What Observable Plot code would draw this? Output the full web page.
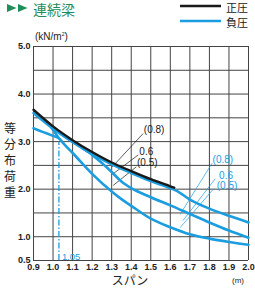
<!DOCTYPE html>
<html><head><meta charset="utf-8">
<script src="https://cdn.jsdelivr.net/npm/d3@7"></script>
<script src="https://cdn.jsdelivr.net/npm/@observablehq/plot@0.6"></script>
<style>body{margin:0;background:#fff}svg{display:block}</style>
</head><body><div id="chart"></div>
<script>
// ---- data ----
const xTicks = [0.9,1.0,1.1,1.2,1.3,1.4,1.5,1.6,1.7,1.8,1.9,2.0];
const yLabels = [0.5,1.0,2.0,3.0,4.0,5.0];
const yGrid = [0.5,1.0,1.5,2.0,2.5,3.0,3.5,4.0,4.5,5.0];

// 正圧 (black)
const posX = [0.9,1.0,1.1,1.2,1.3,1.4,1.5,1.6,1.62];
const posY = [3.67,3.32,3.03,2.78,2.56,2.38,2.21,2.06,2.03];
// 負圧 (0.8)
const neg08X = [0.9,1.0,1.1,1.2,1.3,1.4,1.5,1.6,1.63,1.7,1.8,1.9,2.0];
const neg08Y = [3.6,3.27,2.99,2.74,2.52,2.34,2.17,2.02,1.97,1.78,1.59,1.44,1.3];
// 負圧 0.6
const neg06X = [1.15,1.2,1.25,1.3,1.35,1.4,1.5,1.6,1.7,1.8,1.9,2.0];
const neg06Y = [2.86,2.72,2.55,2.36,2.16,2.02,1.83,1.66,1.48,1.3,1.13,0.98];
// 負圧 (0.5)
const neg05X = [0.9,0.95,1.0,1.03,1.06,1.1,1.2,1.3,1.35,1.4,1.5,1.6,1.7,1.8,1.9,2.0];
const neg05Y = [3.28,3.2,3.12,3.07,2.93,2.76,2.32,1.95,1.79,1.65,1.38,1.2,1.05,0.96,0.89,0.83];
const negBranchX = [0.99,1.03];
const negBranchY = [3.3,3.07];

const spanMark = 1.03, spanMarkTop = 2.98, spanMarkLabel = "1.05";

const curveLabels = ["(0.8)","0.6","(0.5)"];
const blackLabelX = [1.517,1.477,1.482];
const blackLabelY = [3.25,2.79,2.56];
const blackLeadX1 = [1.461,1.436,1.426], blackLeadY1 = [3.17,2.72,2.47];
const blackLeadX2 = [1.303,1.303,1.308], blackLeadY2 = [2.47,2.31,2.08];
const blueLabelX = [1.869,1.885,1.89];
const blueLabelY = [2.62,2.29,2.08];
const blueLeadX1 = [1.813,1.83,1.822], blueLeadY1 = [2.54,2.22,2.01];
const blueLeadX2 = [1.65,1.665,1.65], blueLeadY2 = [1.47,1.34,1.19];

const BLUE = "#1b9ddf", BLACK = "#1a1a1a", GREEN = "#1f8c5c", GRID = "#444";
const toRows = (xs, ys) => xs.map((x, i) => ({x, y: ys[i]}));
const lead = (x1,y1,x2,y2) => x1.map((v,i)=>({x1:v,y1:y1[i],x2:x2[i],y2:y2[i]}));
const lab = (xs,ys) => xs.map((x,i)=>({x,y:ys[i],t:curveLabels[i]}));

const font = "'Liberation Sans', Arial, sans-serif";
const chart = Plot.plot({
  width: 255, height: 288,
  marginLeft: 33, marginRight: 7, marginTop: 46, marginBottom: 28,
  style: {fontFamily: font, fontSize: "9px", color: "#222", background: "#fff"},
  x: {domain: [0.9, 2.0], label: null},
  y: {domain: [0.5, 5.0], label: null},
  marks: [
    Plot.ruleX(xTicks, {stroke: GRID, strokeWidth: 1}),
    Plot.ruleY(yGrid, {stroke: GRID, strokeWidth: 1}),
    Plot.axisX({ticks: xTicks, tickFormat: ".1f", tickSize: 0, tickPadding: 3, label: null, fontWeight: "bold", fill: "#222"}),
    Plot.axisY({ticks: yLabels, tickFormat: ".1f", tickSize: 0, tickPadding: 3, label: null, fontWeight: "bold", fill: "#222"}),
    Plot.ruleX([spanMark], {y1: 0.5, y2: spanMarkTop, stroke: BLUE, strokeWidth: 1.3, strokeDasharray: "6,2,1.5,2"}),
    Plot.text([spanMarkLabel], {x: spanMark, y: 0.5, text: d => d, dx: 3, dy: -1, lineAnchor: "bottom", textAnchor: "start", fill: BLUE, fontSize: 9.5}),
    Plot.link(lead(blackLeadX1,blackLeadY1,blackLeadX2,blackLeadY2), {x1:"x1",y1:"y1",x2:"x2",y2:"y2", stroke: BLACK, strokeWidth: 0.7}),
    Plot.link(lead(blueLeadX1,blueLeadY1,blueLeadX2,blueLeadY2), {x1:"x1",y1:"y1",x2:"x2",y2:"y2", stroke: BLUE, strokeWidth: 0.7}),
    Plot.line(toRows(neg05X, neg05Y), {x:"x", y:"y", stroke: BLUE, strokeWidth: 2.6, curve: "monotone-x"}),
    Plot.line(toRows(negBranchX, negBranchY), {x:"x", y:"y", stroke: BLUE, strokeWidth: 2.6}),
    Plot.line(toRows(neg06X, neg06Y), {x:"x", y:"y", stroke: BLUE, strokeWidth: 2.6, curve: "monotone-x"}),
    Plot.line(toRows(neg08X, neg08Y), {x:"x", y:"y", stroke: BLUE, strokeWidth: 2.6, curve: "monotone-x"}),
    Plot.line(toRows(posX, posY), {x:"x", y:"y", stroke: BLACK, strokeWidth: 2.4, curve: "monotone-x"}),
    Plot.text(lab(blackLabelX, blackLabelY), {x:"x", y:"y", text:"t", fill: BLACK, fontSize: 10}),
    Plot.text(lab(blueLabelX, blueLabelY), {x:"x", y:"y", text:"t", fill: BLUE, fontSize: 10})
  ]
});
document.getElementById("chart").appendChild(chart);

// titles, legend, units
const svg = d3.select(chart);
const cjk = "'Noto Sans CJK JP', 'Noto Sans', sans-serif";
[7, 18].forEach(x0 => svg.append("path").attr("d", `M${x0},4L${x0+9.5},8L${x0},12Z`).attr("fill", GREEN));
svg.append("text").attr("x", 33).attr("y", 15).attr("text-anchor","start").attr("fill", GREEN)
  .style("font-family", cjk).style("font-size", "14px").text("連続梁");
const legend = [{t:"正圧", c:BLACK, y:6},{t:"負圧", c:BLUE, y:21}];
legend.forEach(d => {
  svg.append("line").attr("x1",180).attr("x2",221).attr("y1",d.y).attr("y2",d.y).attr("stroke",d.c).attr("stroke-width",2.6);
  svg.append("text").attr("x",226).attr("y",d.y+6).attr("text-anchor","start").attr("fill","#222")
    .style("font-family", cjk).style("font-size","11px").text(d.t);
});
const unit = svg.append("text").attr("x", 35).attr("y", 40).attr("text-anchor","start").attr("fill","#222")
  .style("font-family", font).style("font-size","10px");
unit.append("tspan").text("(kN/m");
unit.append("tspan").attr("dy",-4).style("font-size","5px").text("2");
unit.append("tspan").attr("dy",4).text(")");
const yt = svg.append("text").attr("fill","#222").style("font-family", cjk).style("font-size","12px").attr("text-anchor","middle");
"等分布荷重".split("").forEach((c,i) => yt.append("tspan").attr("x",10).attr("y",133 + i*16).text(c));
svg.append("text").attr("x",130).attr("y",285).attr("text-anchor","middle").attr("fill","#222")
  .style("font-family", cjk).style("font-size","12px").text("スパン");
svg.append("text").attr("x",238).attr("y",283).attr("text-anchor","middle").attr("fill","#222")
  .style("font-family", font).style("font-size","8px").text("(m)");
</script></body></html>
